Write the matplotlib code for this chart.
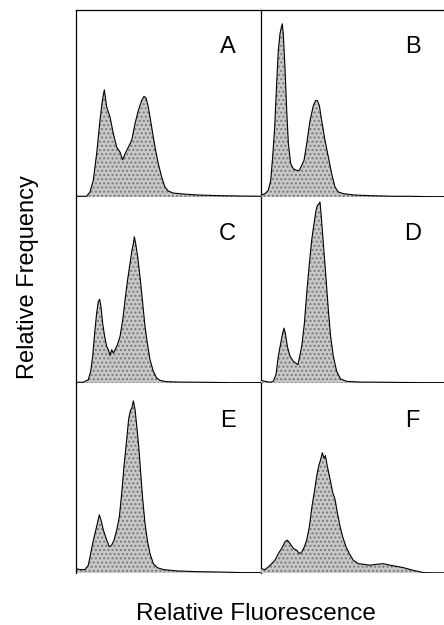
import numpy as np
import matplotlib.pyplot as plt

plt.rcParams['font.family'] = ['Liberation Sans', 'DejaVu Sans']

# fluorescence channel (0-200) and relative counts (% of panel height)
ch_a = [0, 11.5, 15.1, 18.7, 22.3, 25.9, 28.5, 30.6, 33.2, 36.8, 40.4, 44.0, 47.6, 50.5, 53.0,
        56.6, 60.2, 63.8, 67.4, 71.0, 73.5, 75.7, 78.2, 81.8, 85.4, 89.0, 92.6, 96.2, 99.8,
        105.2, 116, 130.5, 155.7, 181, 200]
cnt_a = [0.4, 0.4, 2.7, 8.9, 23.1, 40.9, 51.6, 57.3, 48.1, 42.7, 33.8, 26.7, 24.0, 19.9, 23.1,
         26.7, 30.3, 39.2, 46.3, 51.6, 53.8, 53.0, 48.1, 37.4, 26.7, 17.8, 10.7, 5.3, 3.2,
         2.1, 1.6, 1.1, 0.7, 0.5, 0.4]

ch_b = [0, 4.3, 7.9, 10.5, 12.6, 14.8, 16.9, 18.7, 20.5, 22.0, 23.1, 24.1, 25.9, 27.8, 29.6,
        32.1, 35.0, 38.6, 41.4, 44.0, 46.5, 49.4, 53.0, 56.6, 59.1, 60.9, 63.1, 65.6, 69.2,
        72.8, 76.4, 80.0, 83.6, 89.0, 99.8, 117.9, 143.1, 161.1, 179.1, 200]
cnt_b = [0.9, 1.8, 3.6, 8.9, 21.4, 37.4, 60.5, 78.3, 87.2, 90.8, 92.6, 87.2, 69.4, 46.3, 28.5,
         17.8, 15.1, 14.2, 14.2, 16.9, 19.6, 28.5, 40.9, 48.9, 51.6, 51.6, 48.9, 40.9, 30.3,
         21.4, 12.5, 5.3, 2.7, 1.8, 1.1, 0.7, 0.4, 0.4, 0.2, 0.2]

ch_c = [0, 7.9, 13.3, 15.9, 18.0, 20.5, 22.3, 24.1, 25.6, 27.0, 28.8, 31.0, 33.2, 35.0, 36.8,
        38.6, 40.4, 42.2, 44.7, 47.6, 50.5, 53.0, 55.5, 58.4, 60.5, 62.0, 63.1, 64.5, 66.7,
        69.2, 72.1, 74.6, 77.1, 80.0, 83.6, 87.2, 90.8, 98.0, 112.4, 137.7, 166.5, 200]
cnt_c = [0.4, 0.4, 1.8, 6.3, 14.3, 28.6, 37.5, 43.8, 45.0, 41.1, 32.1, 25.0, 19.6, 17.9, 14.8,
         17.9, 16.1, 17.9, 20.5, 25.0, 33.9, 44.6, 54.5, 64.3, 71.4, 75.0, 78.6, 75.0, 67.9,
         57.1, 42.9, 30.4, 21.4, 12.5, 6.3, 2.7, 1.4, 0.7, 0.5, 0.4, 0.2, 0.2]

ch_d = [0, 4.3, 9.7, 13.3, 16.2, 18.7, 21.3, 23.4, 24.9, 26.3, 28.5, 31.4, 35.0, 37.8, 40.0,
        41.4, 44.0, 46.9, 49.4, 52.3, 54.8, 57.3, 59.5, 60.9, 62.7, 63.8, 65.2, 67.4, 69.9,
        72.8, 75.3, 78.2, 81.8, 86.1, 92.6, 107.0, 135.9, 171.9, 200]
cnt_d = [1.4, 0.9, 0.4, 0.9, 4.5, 14.3, 21.4, 26.8, 29.5, 26.8, 19.6, 14.3, 11.6, 10.7, 9.8,
         13.4, 19.6, 32.1, 48.2, 64.3, 76.8, 85.7, 92.9, 95.4, 96.4, 97.3, 89.3, 75.0, 58.9,
         39.3, 25.0, 14.3, 6.3, 2.1, 0.9, 0.5, 0.4, 0.2, 0.2]

ch_e = [0, 4.3, 9.7, 13.3, 15.9, 18.0, 20.5, 23.1, 25.2, 27.0, 29.6, 33.2, 36.0, 38.6, 41.1,
        44.0, 46.9, 49.4, 51.9, 54.8, 56.9, 58.7, 60.5, 62.0, 63.8, 65.6, 67.8, 69.9, 72.1,
        74.6, 77.1, 80.0, 83.6, 87.9, 94.4, 108.8, 130.5, 155.7, 180.9, 200]
cnt_e = [2.3, 1.8, 1.8, 4.1, 10.2, 15.5, 20.8, 26.1, 30.6, 27.9, 22.6, 17.3, 13.8, 14.7, 17.3,
         22.6, 29.7, 42.0, 56.2, 70.3, 80.9, 85.3, 87.1, 90.6, 86.2, 77.7, 66.8, 53.0, 38.9,
         26.1, 17.3, 10.2, 4.9, 2.8, 1.8, 1.1, 0.7, 0.5, 0.2, 0.2]

ch_f = [0, 4.3, 7.9, 11.5, 15.1, 18.7, 22.3, 25.9, 28.5, 31.4, 35.0, 38.6, 41.4, 44.0, 46.9,
        49.4, 52.3, 55.1, 58.0, 60.2, 62.3, 64.5, 66.3, 68.1, 69.6, 71.7, 74.6, 77.5, 80.0,
        82.5, 85.4, 88.3, 91.9, 95.5, 99.8, 105.2, 110.6, 117.9, 125.1, 132.3, 139.5, 146.7,
        153.9, 164.7, 175.5, 186.3, 200]
cnt_f = [2.3, 1.8, 3.2, 4.9, 6.7, 10.2, 12.9, 16.4, 17.3, 15.5, 12.9, 12.0, 10.2, 11.0, 13.8,
         17.3, 24.4, 35.0, 43.8, 50.9, 56.2, 59.7, 63.3, 60.4, 61.8, 56.2, 49.5, 42.4, 38.9,
         31.8, 24.7, 19.1, 13.8, 10.2, 6.7, 4.9, 4.6, 4.1, 4.6, 4.9, 4.1, 3.5,
         2.8, 1.4, 0.2, 0.1, 0.1]

panels = [("A", ch_a, cnt_a), ("B", ch_b, cnt_b),
          ("C", ch_c, cnt_c), ("D", ch_d, cnt_d),
          ("E", ch_e, cnt_e), ("F", ch_f, cnt_f)]

W, H = 444, 625
fig = plt.figure(figsize=(W / 100, H / 100), dpi=100)

col_left = [76, 261]
col_w = 185
row_top = [10, 197, 383]
row_h = [187, 186, 190]

for i, (lab, x, y) in enumerate(panels):
    r, c = divmod(i, 2)
    ax = fig.add_axes([col_left[c] / W, (H - row_top[r] - row_h[r]) / H,
                       col_w / W, row_h[r] / H])
    ax.fill_between(x, y, 0, facecolor='#c8c8c8', edgecolor='#7a7a7a',
                    linewidth=0, hatch='....')
    ax.plot(x, y, color='black', lw=0.8)
    ax.set_xlim(0, 200)
    ax.set_ylim(0, 100)
    ax.set_xticks([])
    ax.set_yticks([])
    for s in ax.spines.values():
        s.set_visible(False)
        s.set_linewidth(0.9)
    if c == 0:
        ax.spines['left'].set_visible(True)
        ax.spines['right'].set_visible(True)
    if r == 0:
        ax.spines['top'].set_visible(True)
    ax.patch.set_alpha(0)
    ax.text(0.82, 0.8, lab, transform=ax.transAxes, fontsize=17,
            ha='center', va='center')

fig.text(28 / W, 1 - 277 / H, "Relative Frequency", rotation=90,
         fontsize=17, ha='center', va='center')
fig.text(256 / W, 1 - 614 / H, "Relative Fluorescence",
         fontsize=17.5, ha='center', va='center')

fig.savefig("out.png", dpi=100)
